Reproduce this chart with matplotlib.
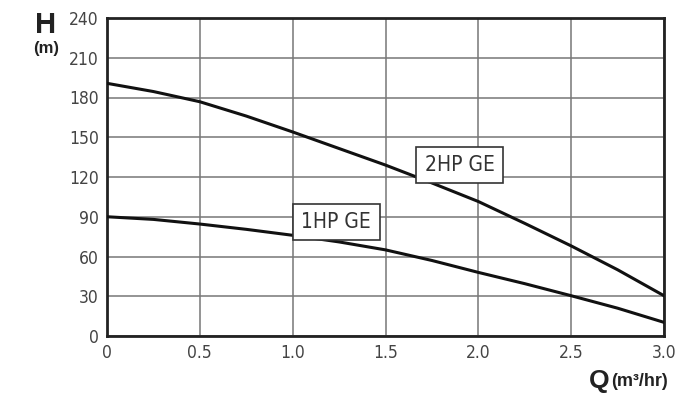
import matplotlib
matplotlib.use('Agg')
import matplotlib.pyplot as plt

# flow (m3/hr) and head (m)
q = [0.0, 0.25, 0.5, 0.75, 1.0, 1.25, 1.5, 1.75, 2.0, 2.25, 2.5, 2.75, 3.0]
h_2hp = [190.7, 184.5, 176.8, 166, 154, 141.5, 129, 115.5, 101.5, 85, 68, 50, 30.4]
h_1hp = [90, 88, 84.5, 80.5, 76, 71, 65, 57, 48, 39.5, 30.4, 21, 10.3]

x_ticks = [0, 0.5, 1.0, 1.5, 2.0, 2.5, 3.0]
x_labels = ['0', '0.5', '1.0', '1.5', '2.0', '2.5', '3.0']
y_ticks = [0, 30, 60, 90, 120, 150, 180, 210, 240]

plt.rcParams['font.family'] = ['DejaVu Sans']
plt.rcParams['font.stretch'] = 'condensed'

fig = plt.figure(figsize=(6.93, 3.95), dpi=100)
ax = fig.add_axes([107 / 693, 1 - 336 / 395, (664 - 107) / 693, (336 - 18) / 395])

ax.plot(q, h_2hp, color='#111111', lw=2.2, zorder=3)
ax.plot(q, h_1hp, color='#111111', lw=2.2, zorder=3)

ax.set_xlim(0, 3.0)
ax.set_ylim(0, 240)
ax.set_xticks(x_ticks)
ax.set_xticklabels(x_labels)
ax.set_yticks(y_ticks)
ax.grid(True, color='#777777', lw=1.1)
ax.tick_params(length=0, labelsize=12.5, colors='#444444', pad=6)
for s in ax.spines.values():
    s.set_linewidth(2)
    s.set_color('#222222')

box = dict(boxstyle='square,pad=0.4', fc='white', ec='#333333', lw=1.2)
ax.text(1.235, 86, '1HP GE', fontsize=15, ha='center', va='center', color='#333333', bbox=box, zorder=4)
ax.text(1.90, 129, '2HP GE', fontsize=15, ha='center', va='center', color='#333333', bbox=box, zorder=4)

bold = dict(fontweight='bold', color='#222222', family=['Liberation Sans', 'DejaVu Sans'])
fig.text(46 / 693, 1 - 25 / 395, 'H', fontsize=21, ha='center', va='center', **bold)
fig.text(46 / 693, 1 - 49 / 395, '(m)', fontsize=12, ha='center', va='center', **bold)
fig.text(610 / 693, 1 - 381 / 395, 'Q', fontsize=19, ha='right', va='center', **bold)
fig.text(611 / 693, 1 - 381 / 395, '(m³/hr)', fontsize=13, ha='left', va='center', **bold)

fig.savefig('out.png', dpi=100)
